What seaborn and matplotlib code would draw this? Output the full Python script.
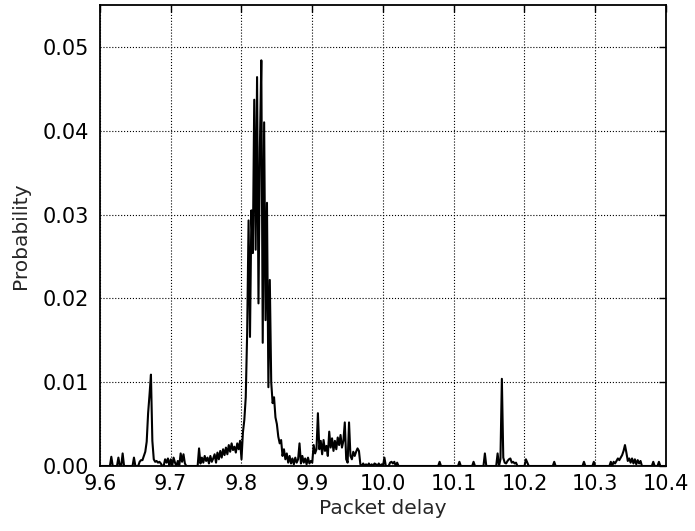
import numpy as np
import pandas as pd
import matplotlib
matplotlib.use("Agg")
import matplotlib.pyplot as plt
import seaborn as sns

# histogram bins of packet delay, width 0.002
bin_start = 9.6
bin_width = 0.002

# probability per bin (10 bins per row)
prob = [
    0, 0, 0, 0, 0, 0, 0, 0, 0.0011, 0,                                      # 9.60
    0, 0, 0, 0.0010, 0, 0, 0.0015, 0, 0, 0,                                 # 9.62
    0, 0, 0, 0, 0.0010, 0, 0, 0, 0.0005, 0.0007,                            # 9.64
    0.0007, 0.0012, 0.0017, 0.0029, 0.0063, 0.0085, 0.0109, 0.0030, 0.0008, 0.0005,  # 9.66
    0.0006, 0.0004, 0.0005, 0.0003, 0, 0, 0.0008, 0.0004, 0.0009, 0,        # 9.68
    0.0008, 0, 0.0010, 0.0004, 0, 0.0006, 0, 0.0015, 0.0005, 0.0014,        # 9.70
    0.0003, 0, 0, 0, 0, 0, 0, 0, 0, 0,                                      # 9.72
    0.0021, 0.0003, 0.0010, 0.0004, 0.0012, 0.0006, 0.0010, 0.0003, 0.0012, 0.0005,  # 9.74
    0.0009, 0.0014, 0.0004, 0.0016, 0.0008, 0.0018, 0.0010, 0.0020, 0.0013, 0.0022,  # 9.76
    0.0014, 0.0025, 0.0017, 0.0027, 0.0019, 0.0023, 0.0016, 0.0027, 0.0020, 0.0030,  # 9.78
    0.0008, 0.0040, 0.0055, 0.0082, 0.0159, 0.0293, 0.0154, 0.0305, 0.0254, 0.0437,  # 9.80
    0.0258, 0.0464, 0.0194, 0.0380, 0.0484, 0.0147, 0.0410, 0.0174, 0.0314, 0.0094,  # 9.82
    0.0222, 0.0100, 0.0075, 0.0082, 0.0058, 0.0050, 0.0035, 0.0027, 0.0031, 0.0012,  # 9.84
    0.0020, 0.0008, 0.0015, 0.0004, 0.0012, 0.0003, 0.0009, 0.0002, 0.0010, 0.0004,  # 9.86
    0.0008, 0.0027, 0.0003, 0.0012, 0.0004, 0.0009, 0.0002, 0.0010, 0.0003, 0.0006,  # 9.88
    0.0004, 0.0025, 0.0015, 0.0020, 0.0063, 0.0020, 0.0030, 0.0014, 0.0031, 0.0018,  # 9.90
    0.0024, 0.0012, 0.0041, 0.0022, 0.0033, 0.0018, 0.0030, 0.0020, 0.0034, 0.0025,  # 9.92
    0.0037, 0.0022, 0.0030, 0.0052, 0.0008, 0.0004, 0.0052, 0.0012, 0.0008, 0.0017,  # 9.94
    0.0012, 0.0017, 0.0021, 0.0018, 0.0002, 0, 0.0003, 0, 0.0002, 0,        # 9.96
    0.0003, 0, 0.0002, 0, 0.0003, 0.0002, 0, 0.0003, 0, 0.0002,             # 9.98
    0, 0.0010, 0, 0, 0, 0.0004, 0.0005, 0.0003, 0.0005, 0,                  # 10.00
    0.0004, 0, 0, 0, 0, 0, 0, 0, 0, 0,                                      # 10.02
    0, 0, 0, 0, 0, 0, 0, 0, 0, 0,                                           # 10.04
    0, 0, 0, 0, 0, 0, 0, 0, 0, 0,                                           # 10.06
    0.0005, 0, 0, 0, 0, 0, 0, 0, 0, 0,                                      # 10.08
    0, 0, 0, 0, 0.0005, 0, 0, 0, 0, 0,                                      # 10.10
    0, 0, 0, 0, 0.0005, 0, 0, 0, 0, 0,                                      # 10.12
    0, 0, 0.0015, 0, 0, 0, 0, 0, 0, 0,                                      # 10.14
    0, 0.0015, 0, 0.0008, 0.0104, 0.0010, 0.0004, 0.0003, 0.0006, 0.0008,   # 10.16
    0.0009, 0.0004, 0.0005, 0.0003, 0.0004, 0, 0, 0, 0, 0,                  # 10.18
    0, 0.0008, 0.0004, 0, 0, 0, 0, 0, 0, 0,                                 # 10.20
    0, 0, 0, 0, 0, 0, 0, 0, 0, 0,                                           # 10.22
    0, 0.0005, 0, 0, 0, 0, 0, 0, 0, 0,                                      # 10.24
    0, 0, 0, 0, 0, 0, 0, 0, 0, 0,                                           # 10.26
    0, 0, 0.0005, 0, 0, 0, 0, 0, 0, 0.0005,                                 # 10.28
    0, 0, 0, 0, 0, 0, 0, 0, 0, 0,                                           # 10.30
    0, 0.0005, 0, 0.0005, 0.0003, 0.0006, 0.0009, 0.0007, 0.0010, 0.0013,   # 10.32
    0.0018, 0.0025, 0.0016, 0.0006, 0.0009, 0.0004, 0.0009, 0.0003, 0.0008, 0.0002,  # 10.34
    0.0007, 0.0003, 0.0006, 0, 0, 0, 0, 0, 0, 0,                           # 10.36
    0, 0.0005, 0, 0, 0, 0.0005, 0, 0, 0, 0,                                 # 10.38
    0,                                                                      # 10.40
]

delay = np.round(bin_start + bin_width * np.arange(len(prob)), 3)
df = pd.DataFrame({"Packet delay": delay, "Probability": prob})

sns.set_style("white")
plt.rcParams["font.family"] = ["DejaVu Sans"]

fig = plt.figure(figsize=(6.95, 5.31), dpi=100)
ax = fig.add_axes([100 / 695, 65 / 531, 566 / 695, 461 / 531])

sns.lineplot(data=df, x="Packet delay", y="Probability", color="black",
             linewidth=1.5, errorbar=None, sort=False, ax=ax)

ax.set_xlim(9.6, 10.4)
ax.set_ylim(0, 0.055)
ax.set_xticks(np.arange(9.6, 10.41, 0.1))
ax.set_xticklabels([f"{v:.1f}" for v in np.arange(9.6, 10.41, 0.1)])
ax.set_yticks(np.arange(0, 0.051, 0.01))
ax.set_yticklabels([f"{v:.2f}" for v in np.arange(0, 0.051, 0.01)])

ax.grid(True, color="black", linestyle=":", linewidth=0.8)
ax.tick_params(direction="in", length=5, width=1, top=True, right=True,
               labelsize=15, colors="black")
ax.tick_params(axis="x", pad=6)
ax.tick_params(axis="y", pad=8)
for s in ax.spines.values():
    s.set_color("black")
    s.set_linewidth(1.3)

ax.set_xlabel("Packet delay", fontsize=14.5, labelpad=3)
ax.set_ylabel("Probability", fontsize=14.5, labelpad=9)

fig.savefig("out.png", dpi=100)
